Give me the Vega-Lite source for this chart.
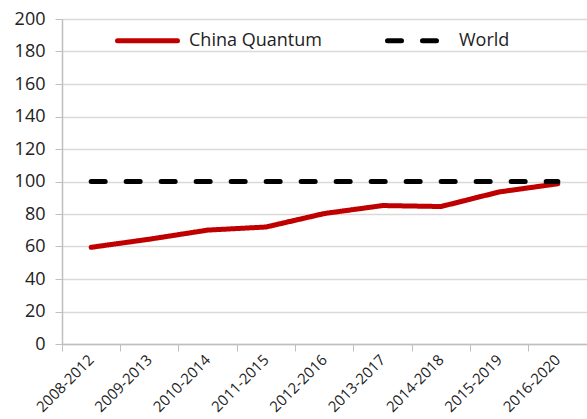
{
  "$schema": "https://vega.github.io/schema/vega-lite/v6.json",
  "width": 525,
  "height": 325,
  "autosize": "none",
  "padding": {"left": 62, "top": 19, "right": 0, "bottom": 75},
  "background": "white",
  "config": {
    "font": "Open Sans",
    "view": {"stroke": null},
    "axis": {"labelFont": "Open Sans", "labelColor": "#222222"}
  },
  "data": {
    "values": [
      {"period": "2008-2012", "series": "China Quantum", "value": 59.5},
      {"period": "2009-2013", "series": "China Quantum", "value": 64.5},
      {"period": "2010-2014", "series": "China Quantum", "value": 70.1},
      {"period": "2011-2015", "series": "China Quantum", "value": 72.0},
      {"period": "2012-2016", "series": "China Quantum", "value": 80.3},
      {"period": "2013-2017", "series": "China Quantum", "value": 85.2},
      {"period": "2014-2018", "series": "China Quantum", "value": 84.6},
      {"period": "2015-2019", "series": "China Quantum", "value": 93.6},
      {"period": "2016-2020", "series": "China Quantum", "value": 98.6},
      {"period": "2008-2012", "series": "World", "value": 100},
      {"period": "2009-2013", "series": "World", "value": 100},
      {"period": "2010-2014", "series": "World", "value": 100},
      {"period": "2011-2015", "series": "World", "value": 100},
      {"period": "2012-2016", "series": "World", "value": 100},
      {"period": "2013-2017", "series": "World", "value": 100},
      {"period": "2014-2018", "series": "World", "value": 100},
      {"period": "2015-2019", "series": "World", "value": 100},
      {"period": "2016-2020", "series": "World", "value": 100}
    ]
  },
  "mark": {"type": "line", "strokeWidth": 5, "strokeCap": "round", "strokeJoin": "round"},
  "encoding": {
    "x": {
      "field": "period",
      "type": "nominal",
      "sort": null,
      "scale": {"type": "band", "paddingInner": 0, "paddingOuter": 0},
      "axis": {
        "title": null,
        "labelAngle": -45,
        "labelAlign": "right",
        "labelBaseline": "middle",
        "labelFontSize": 15,
        "labelPadding": 6,
        "bandPosition": 0,
        "ticks": true,
        "tickSize": 7,
        "tickColor": "#bfbfbf",
        "domainColor": "#bfbfbf",
        "domainWidth": 1.5,
        "grid": false
      }
    },
    "y": {
      "field": "value",
      "type": "quantitative",
      "scale": {"domain": [0, 200]},
      "axis": {
        "title": null,
        "values": [0, 20, 40, 60, 80, 100, 120, 140, 160, 180, 200],
        "labelFontSize": 18,
        "labelPadding": 10,
        "tickSize": 7,
        "tickColor": "#bfbfbf",
        "domainColor": "#bfbfbf",
        "domainWidth": 1.5,
        "gridColor": "#d9d9d9",
        "gridWidth": 1.5
      }
    },
    "color": {
      "field": "series",
      "type": "nominal",
      "scale": {"domain": ["China Quantum", "World"], "range": ["#c00000", "#000000"]},
      "legend": {
        "title": null,
        "orient": "none",
        "direction": "horizontal",
        "legendX": 53,
        "legendY": -11,
        "symbolType": "stroke",
        "symbolSize": 3600,
        "symbolStrokeWidth": 5,
        "labelFontSize": 18,
        "labelColor": "#222222",
        "labelOffset": 9,
        "columnPadding": 55,
        "labelLimit": 300,
        "encode": {
          "symbols": {
            "update": {
              "strokeCap": {"value": "round"},
              "strokeDash": [
                {"test": "datum.value === 'World'", "value": [15, 21]},
                {"value": [1, 0]}
              ]
            }
          }
        }
      }
    },
    "strokeDash": {
      "field": "series",
      "type": "nominal",
      "scale": {"domain": ["China Quantum", "World"], "range": [[1, 0], [14, 21]]},
      "legend": null
    }
  }
}
